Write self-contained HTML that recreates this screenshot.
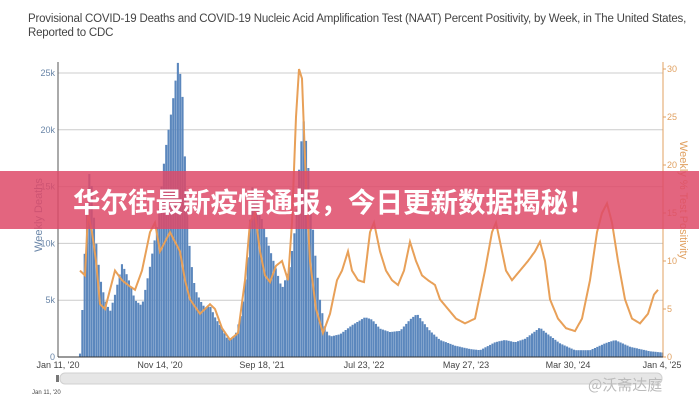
<!DOCTYPE html>
<html><head><meta charset="utf-8"><style>
body{margin:0;width:699px;height:400px;background:#fff;overflow:hidden;font-family:"Liberation Sans","Noto Sans CJK SC",sans-serif;position:relative}
.t{position:absolute;left:28px;top:12px;font-size:11.5px;color:#444;line-height:14px;white-space:nowrap;letter-spacing:-0.2px}
.ban{position:absolute;left:0;top:171px;width:699px;height:58px;background:rgba(222,74,104,0.85);color:#fff;font-weight:bold;font-size:27.5px;line-height:58px;padding-left:73px;box-sizing:border-box;font-family:"Noto Sans CJK SC",sans-serif;white-space:nowrap}
</style></head><body>
<div class="t">Provisional COVID-19 Deaths and COVID-19 Nucleic Acid Amplification Test (NAAT) Percent Positivity, by Week, in The United States,<br>Reported to CDC</div>
<svg id="s" width="699" height="400" style="position:absolute;left:0;top:0"></svg>
<div class="ban">华尔街最新疫情通报，今日更新数据揭秘！</div>
<script>
const d=[[58,0],[78,0],[80,0.3],[82,3.5],[86,12],[90,17],[95,11],[100,7],[105,5],[110,4],[115,5.5],[122,8.2],[128,7],[135,5],[142,4.5],[150,8],[158,12],[165,18],[172,22],[178,26],[182,24],[186,15],[190,9],[195,6],[200,5],[205,4.3],[210,4.5],[215,3.5],[222,2.5],[228,1.5],[235,1.8],[242,4],[248,9],[252,15],[258,14],[262,12],[268,10],[275,8],[282,6],[290,8],[296,12],[300,18],[304,21],[308,17],[314,10],[320,5],[325,2.5],[330,1.8],[340,2],[352,2.8],[365,3.5],[372,3.3],[380,2.5],[390,2.2],[400,2.3],[410,3.3],[417,3.8],[422,3.2],[430,2.3],[440,1.5],[455,1],[470,0.7],[480,0.6],[495,1.3],[505,1.5],[515,1.3],[525,1.6],[540,2.6],[545,2.2],[560,1.2],[575,0.6],[590,0.6],[605,1.2],[615,1.5],[630,0.9],[650,0.5],[662,0.4]];
const n=[[80,9],[85,8.5],[88,15],[92,13],[96,10],[100,5.5],[105,5],[110,7],[115,9],[122,8],[128,7.5],[135,7],[142,9],[150,13],[155,14],[160,11],[165,12],[170,13],[175,12],[180,11],[185,8],[190,6],[200,4.5],[210,5.5],[215,5],[222,3],[230,1.8],[238,2.5],[245,8],[250,14],[255,15],[260,11],[265,8.5],[270,7.8],[276,9.5],[282,10],[288,8],[292,14],[296,25],[299,30],[302,29],[306,18],[310,10],[316,5],[323,2.5],[330,4.5],[337,8],[342,9],[348,11],[352,9],[358,8],[364,7.8],[370,13],[374,14],[380,11],[386,9],[392,8],[398,7.5],[404,9],[410,12],[416,10],[422,8.5],[428,8],[435,7.5],[440,6],[448,5],[456,4],[465,3.5],[475,4],[485,9],[492,13],[496,14],[500,12],[506,9],[512,8],[520,9],[528,10],[535,11],[540,12],[545,10],[550,6],[558,4],[566,3],[575,2.7],[582,4],[590,8],[597,13],[602,15],[607,16],[612,14],[618,10],[625,6],[632,4],[640,3.5],[648,4.5],[654,6.5],[658,7]];
function interp(a,x){for(let i=1;i<a.length;i++){if(x<=a[i][0]){const t=(x-a[i-1][0])/(a[i][0]-a[i-1][0]);return a[i-1][1]+t*(a[i][1]-a[i-1][1]);}}return a[a.length-1][1];}
let h='';
for(let k=0;k<=25;k+=5){const y=357-k*11.36;h+=`<line x1="58" x2="663" y1="${y}" y2="${y}" stroke="#ccc" stroke-width="1"/><text x="55" y="${y+3}" font-size="9" fill="#6a86a8" text-anchor="end">${k?k+'k':'0'}</text>`;}
for(let v=0;v<=30;v+=5){const y=357-v*9.6;h+=`<text x="667" y="${y+3}" font-size="9" fill="#e0a060">${v}</text><line x1="663" x2="666" y1="${y}" y2="${y}" stroke="#e0a060"/>`;}
for(let x=58;x<662;x+=2.33){const v=interp(d,x+1);if(v>0.05)h+=`<rect x="${x.toFixed(2)}" y="${(357-v*11.36).toFixed(1)}" width="2.1" height="${(v*11.36).toFixed(1)}" fill="#5b87bd"/>`;}
let p='';for(let x=80;x<=658;x+=1){p+=(p?'L':'M')+x+','+(357-interp(n,x)*9.6).toFixed(1);}
h+=`<path d="${p}" fill="none" stroke="#e8a058" stroke-width="2"/>`;
h+=`<line x1="58" x2="58" y1="62" y2="357" stroke="#555"/><line x1="663" x2="663" y1="62" y2="357" stroke="#e0a060"/><line x1="58" x2="663" y1="357" y2="357" stroke="#333"/>`;
const xl=[[58,"Jan 11, '20"],[160,"Nov 14, '20"],[262,"Sep 18, '21"],[364,"Jul 23, '22"],[466,"May 27, '23"],[568,"Mar 30, '24"],[662,"Jan 4, '25"]];
xl.forEach(a=>h+=`<text x="${a[0]}" y="368" font-size="9" fill="#444" text-anchor="middle">${a[1]}</text>`);
h+=`<text transform="translate(42,215) rotate(-90)" font-size="11" fill="#6a86a8" text-anchor="middle">Weekly Deaths</text>`;
h+=`<text transform="translate(680,200) rotate(90)" font-size="11" fill="#e0a060" text-anchor="middle">Weekly % Test Positivity</text>`;
h+=`<rect x="60" y="373" width="602" height="11" rx="5" fill="#e6e6e6" stroke="#d0d0d0"/><rect x="56" y="375" width="3" height="7" fill="#777"/>`;
h+=`<text x="32" y="394" font-size="6" fill="#444">Jan 11, '20</text>`;
h+=`<text x="588" y="390" font-size="15" fill="#bbb" font-family="Noto Sans CJK SC,sans-serif">@沃斋达庭</text>`;
document.getElementById('s').innerHTML=h;
</script>
</body></html>
